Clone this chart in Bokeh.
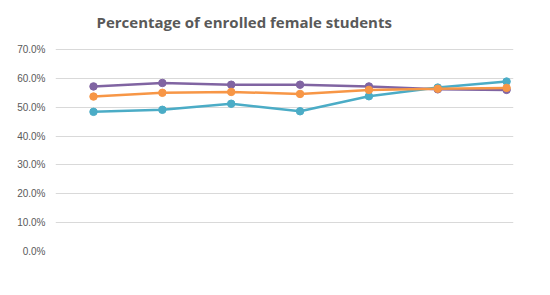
from bokeh.plotting import figure
from bokeh.models import Range1d, NumeralTickFormatter, FixedTicker, Label
from bokeh.embed import file_html
from bokeh.resources import INLINE

categories = ["1", "2", "3", "4", "5", "6", "7"]
purple_vals = [0.572, 0.584, 0.578, 0.578, 0.572, 0.562, 0.560]
orange_vals = [0.537, 0.550, 0.553, 0.546, 0.560, 0.564, 0.567]
teal_vals = [0.484, 0.491, 0.512, 0.486, 0.538, 0.568, 0.589]
y_ticks = [0.0, 0.1, 0.2, 0.3, 0.4, 0.5, 0.6, 0.7]
title_text = "Percentage of enrolled female students"

xs = list(range(len(categories)))

p = figure(width=534, height=279, output_backend="svg", toolbar_location=None,
           x_range=Range1d(-0.552, 6.10), y_range=Range1d(0, 0.8698),
           min_border_left=55, min_border_right=21, min_border_top=0, min_border_bottom=28)

title = Label(x=41, y=0.7936, x_units="screen", y_units="data", text=title_text,
              text_font="Open Sans", text_font_style="bold", text_font_size="15px",
              text_color="#595959", text_baseline="middle", text_align="left")
p.add_layout(title)

p.outline_line_color = None
p.xaxis.visible = False
p.xgrid.visible = False
p.ygrid.grid_line_color = "#d9d9d9"
p.ygrid.grid_line_width = 1
p.yaxis.ticker = FixedTicker(ticks=y_ticks)
p.yaxis.formatter = NumeralTickFormatter(format="0.0%")
p.yaxis.axis_line_color = None
p.yaxis.major_tick_line_color = None
p.yaxis.minor_tick_line_color = None
p.yaxis.major_label_text_font = "Liberation Sans"
p.yaxis.major_label_text_font_size = "10px"
p.yaxis.major_label_text_color = "#595959"
p.yaxis.major_label_standoff = 4

for vals, col in [(purple_vals, "#8064a2"), (teal_vals, "#4bacc6"), (orange_vals, "#f79646")]:
    p.line(xs, vals, line_color=col, line_width=2.5)
    p.scatter(xs, vals, size=7.5, fill_color=col, line_color=col)

open("out.html", "w").write(file_html(p, INLINE))
